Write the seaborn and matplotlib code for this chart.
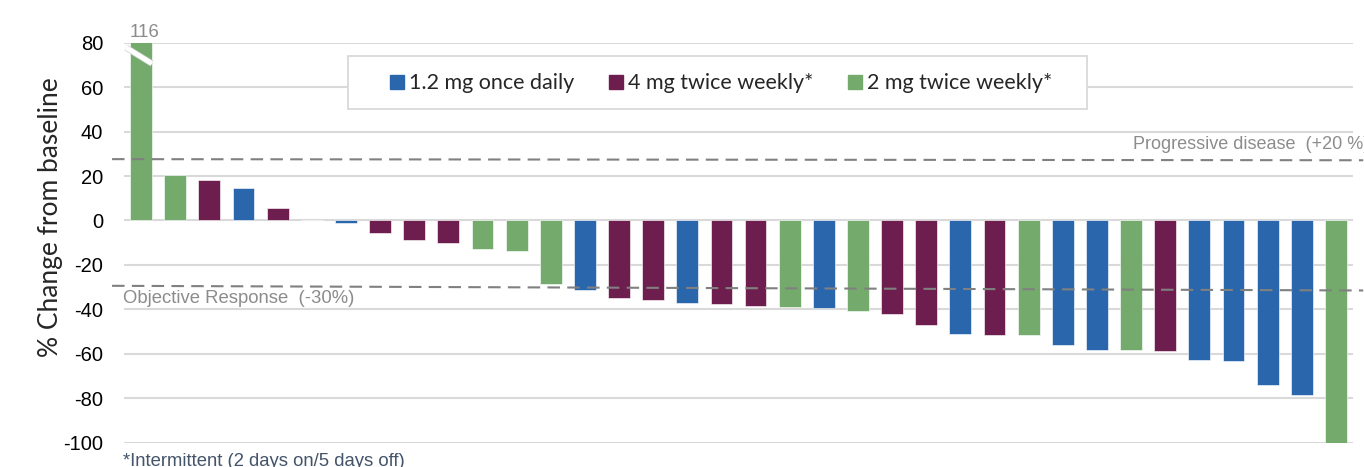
import numpy as np
import pandas as pd
import matplotlib
matplotlib.use("Agg")
import matplotlib.pyplot as plt
import matplotlib.patheffects as pe
import seaborn as sns

# ---- data ----
groups = ["2 mg twice weekly*", "2 mg twice weekly*", "4 mg twice weekly*", "1.2 mg once daily",
          "4 mg twice weekly*", "2 mg twice weekly*", "1.2 mg once daily", "4 mg twice weekly*",
          "4 mg twice weekly*", "4 mg twice weekly*", "2 mg twice weekly*", "2 mg twice weekly*",
          "2 mg twice weekly*", "1.2 mg once daily", "4 mg twice weekly*", "4 mg twice weekly*",
          "1.2 mg once daily", "4 mg twice weekly*", "4 mg twice weekly*", "2 mg twice weekly*",
          "1.2 mg once daily", "2 mg twice weekly*", "4 mg twice weekly*", "4 mg twice weekly*",
          "1.2 mg once daily", "4 mg twice weekly*", "2 mg twice weekly*", "1.2 mg once daily",
          "1.2 mg once daily", "2 mg twice weekly*", "4 mg twice weekly*", "1.2 mg once daily",
          "1.2 mg once daily", "1.2 mg once daily", "1.2 mg once daily", "2 mg twice weekly*"]
values = [116, 20.5, 18, 14.5, 5.5, 0.4, -1, -5.8,
          -9, -10.2, -12.8, -13.6, -28.5, -31.5, -35, -35.7,
          -37.2, -37.7, -38.5, -38.9, -39.5, -40.7, -42.2, -46.9,
          -51.1, -51.7, -51.7, -56.2, -58.3, -58.4, -58.6, -62.8,
          -63.2, -74.1, -78.4, -100]
legend_order = ["1.2 mg once daily", "4 mg twice weekly*", "2 mg twice weekly*"]
colors = {"1.2 mg once daily": "#2966AC",
          "4 mg twice weekly*": "#6E1E4E",
          "2 mg twice weekly*": "#74AB6C"}
y_ticks = [-100, -80, -60, -40, -20, 0, 20, 40, 60, 80]
pd_threshold = "Progressive disease  (+20 %)"
or_threshold = "Objective Response  (-30%)"
footnote = "*Intermittent (2 days on/5 days off)"

df = pd.DataFrame({"patient": [str(i) for i in range(len(values))],
                   "change": values, "group": groups})

sns.set_theme(style="white")
plt.rcParams["font.family"] = ["Liberation Sans", "DejaVu Sans"]

W, H = 1364, 467
fig = plt.figure(figsize=(W / 100, H / 100), dpi=100)
ax = fig.add_axes([124/W, 1-442.7/H, (1353-124)/W, 400/H])

sns.barplot(data=df, x="patient", y="change", hue="group", hue_order=legend_order,
            palette=colors, dodge=False, width=0.64, ax=ax, saturation=1,
            edgecolor=(1, 1, 1, 0.6), linewidth=0.7, zorder=3, legend=False)

ax.set_ylim(-100, 80)
ax.set_xlim(-0.5, len(values) - 0.5)
ax.set_yticks(y_ticks)
ax.set_yticklabels([str(t) for t in y_ticks], fontsize=14.5, color="black")
ax.tick_params(axis="y", length=0, pad=15)
ax.set_xticks([])
ax.set_xlabel("")
ax.set_ylabel("% Change from baseline", fontsize=19, family="Lato")
ax.yaxis.set_label_coords(-0.050, 0.563)
for s in ax.spines.values():
    s.set_visible(False)
for t in y_ticks:
    ax.axhline(t, color="#D9D9D9", lw=1.5, zorder=1)

# threshold dashed lines (extend past axes)
ax.plot([-0.85, 35.8], [27.6, 27.1], color="#808080", lw=1.5, ls=(0, (6, 3.5)),
        clip_on=False, zorder=4)
ax.plot([-0.85, 35.8], [-29.4, -31.5], color="#808080", lw=1.5, ls=(0, (6, 3.5)),
        clip_on=False, zorder=4)
ax.text(0.821, 34.0, pd_threshold, transform=ax.get_yaxis_transform(),
        fontsize=13, color="#8C8C8C", ha="left", va="center", clip_on=False)
ax.text(-0.001, -35.0, or_threshold, transform=ax.get_yaxis_transform(),
        fontsize=13.3, color="#8C8C8C", ha="left", va="center")

# truncated bar label and break mark
ax.text(0.09, 80 + 4.7, str(values[0]), fontsize=13.5, color="#8C8C8C",
        ha="center", va="center", clip_on=False)
ax.plot([-0.44, 0.32], [77.8, 70.6], color="white", lw=3.5, zorder=5,
        solid_capstyle="butt", clip_on=False,
        path_effects=[pe.Stroke(linewidth=4.5, foreground="#D0D0D0"), pe.Normal()])

# legend (frame drawn separately, beneath the legend entries)
frame = plt.Rectangle((348/W, 1-109/H), (1087-348)/W, 53/H,
                      transform=fig.transFigure, facecolor="white",
                      edgecolor="#D9D9D9", lw=1.3, zorder=5.5, clip_on=False)
ax.add_patch(frame)
handles = [plt.Rectangle((0, 0), 1, 1, color=colors[g]) for g in legend_order]
leg = ax.legend(handles, legend_order, loc="center", bbox_to_anchor=(0.4861, 0.898),
                ncol=3, frameon=False,
                prop={"family": "Lato", "size": 15.5}, handlelength=0.65, handleheight=0.65,
                handletextpad=0.23, columnspacing=1.62, borderpad=0,
                borderaxespad=0)
leg.set_zorder(6)

fig.text(123/W, 1-461/H, footnote, fontsize=13.3, color="#44546A",
         ha="left", va="center")

fig.savefig("out.png", dpi=100, facecolor="white")
